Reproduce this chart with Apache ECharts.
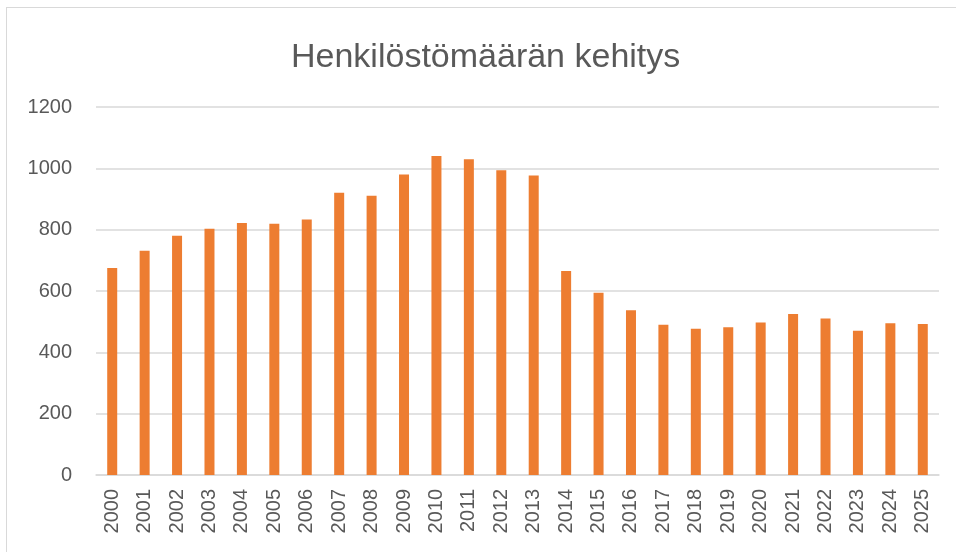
<!DOCTYPE html>
<html>
<head>
<meta charset="utf-8">
<script src="https://cdn.jsdelivr.net/npm/echarts@6/dist/echarts.min.js"></script>
<style>
  html, body { margin: 0; padding: 0; background: #fff; }
  .chartBox { position: absolute; left: 0; top: 0; width: 956px; height: 552px; }
  .frame { position: absolute; left: 6px; top: 7px; width: 960px; height: 560px; border: 1.5px solid #d9d9d9; }
</style>
</head>
<body>
<div class="frame"></div>
<div class="chartBox" id="main"></div>
<script>
var years = ['2000', '2001', '2002', '2003', '2004', '2005', '2006', '2007', '2008', '2009',
  '2010', '2011', '2012', '2013', '2014', '2015', '2016', '2017', '2018', '2019',
  '2020', '2021', '2022', '2023', '2024', '2025']
var henkilosto = [675, 731, 780, 803, 822, 819, 833, 920, 911, 980,
  1040, 1030, 994, 977, 665, 594, 537, 490, 477, 482,
  497, 525, 510, 470, 495, 492]
var yTicks = [0, 200, 400, 600, 800, 1000, 1200]

var textColor = '#595959'
var gridColor = '#d9d9d9'
var barColor = '#ed7d31'

var myChart = echarts.init(document.getElementById('main'))
var option = {
  backgroundColor: 'transparent',
  animation: false,
  title: {
    text: 'Henkilöstömäärän kehitys',
    left: 286,
    top: 36,
    textStyle: {
      color: textColor,
      fontFamily: 'Liberation Sans',
      fontWeight: 'normal',
      fontSize: 34
    }
  },
  grid: {
    left: 96,
    right: 17,
    top: 107,
    bottom: 77
  },
  xAxis: {
    type: 'category',
    data: years,
    axisLine: { lineStyle: { color: gridColor, width: 1.5 } },
    axisTick: { show: false },
    axisLabel: {
      rotate: 90,
      margin: 14,
      color: textColor,
      fontFamily: 'Liberation Sans',
      fontSize: 20
    }
  },
  yAxis: {
    type: 'value',
    min: yTicks[0],
    max: yTicks[yTicks.length - 1],
    interval: 200,
    axisLine: { show: false },
    axisTick: { show: false },
    axisLabel: {
      margin: 24,
      color: textColor,
      fontFamily: 'Liberation Sans',
      fontSize: 20,
      formatter: function (v) { return String(v) }
    },
    splitLine: { lineStyle: { color: gridColor, width: 1.5 } }
  },
  series: [
    {
      name: 'Henkilöstö',
      type: 'bar',
      data: henkilosto,
      barWidth: 10,
      itemStyle: { color: barColor }
    }
  ]
}
myChart.setOption(option)
</script>
</body>
</html>
